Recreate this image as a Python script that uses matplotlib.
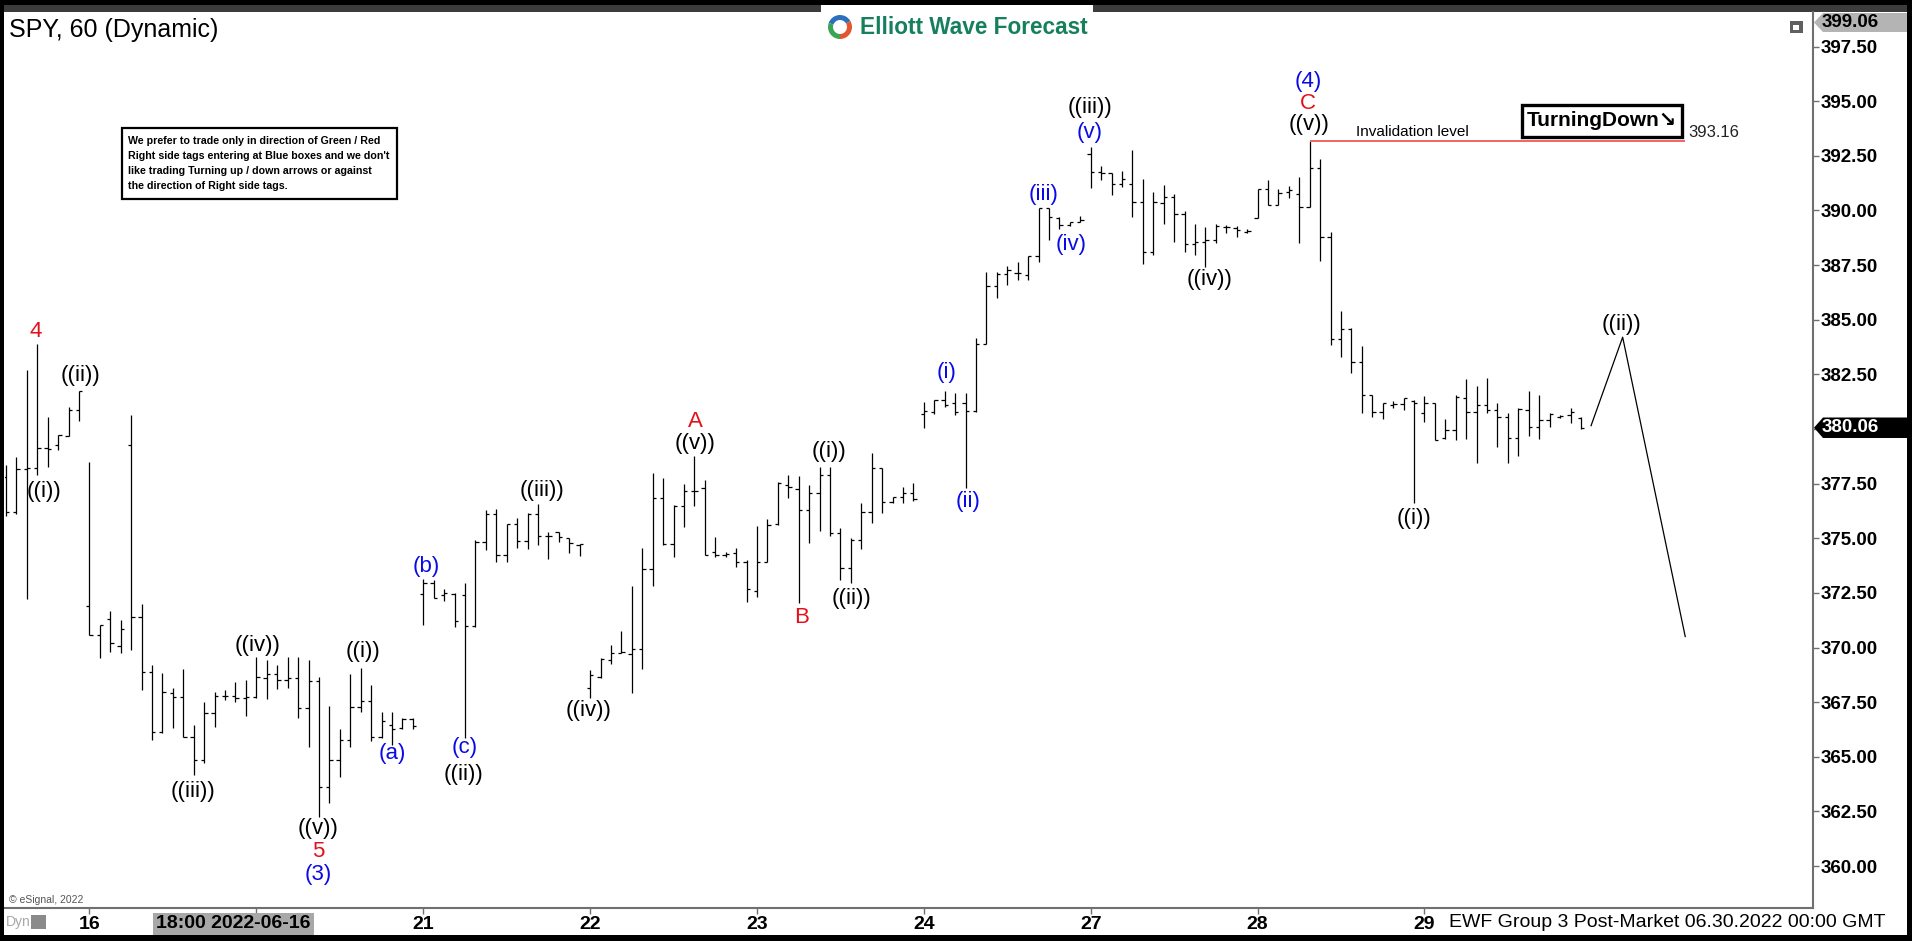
import numpy as np
import matplotlib
matplotlib.use("Agg")
import matplotlib.pyplot as plt
from matplotlib import font_manager
from matplotlib.patches import Rectangle, Polygon, Wedge

# SPY hourly bars (16 per session, 04:00-20:00)
opens = [377.8, 376.2, 378.16, 378.2, 379.15, 379.27, 379.68, 380.87,
         371.9, 370.57, 371.3, 370.07, 379.27, 371.41, 368.9, 366.12,
         367.9, 367.72, 365.89, 364.85, 366.99, 367.78, 367.78, 367.67,
         367.75, 368.6, 368.77, 368.5, 368.6, 367.22, 368.47, 363.63,
         364.86, 365.77, 367.3, 367.53, 365.89, 366.46, 366.3, 366.72,
         372.44, 372.94, 372.41, 372.44, 372.41, 370.99, 374.85, 376.11,
         374.24, 375.66, 374.89, 376.11, 375.11, 375.27, 375.0, 374.69,
         368.13, 368.67, 369.43, 369.76, 369.7, 369.92, 373.58, 376.83,
         374.72, 376.49, 377.16, 377.29, 374.39, 374.23, 374.34, 373.93,
         372.59, 373.93, 375.64, 377.44, 377.24, 376.29, 377.05, 377.89,
         375.22, 373.62, 374.92, 376.21, 378.2, 376.67, 376.9, 377.05,
         380.7, 380.79, 381.32, 381.17, 381.17, 380.82, 383.87, 386.54,
         387.08, 387.12, 387.05, 387.93, 390.13, 389.64, 389.33, 389.49,
         392.58, 391.77, 391.7, 391.2, 391.2, 390.4, 388.11, 390.36,
         390.6, 389.82, 388.45, 388.57, 388.65, 389.26, 389.18, 389.03,
         389.64, 391.0, 390.25, 390.86, 390.75, 390.17, 391.93, 388.8,
         384.1, 384.56, 383.08, 381.55, 380.76, 381.1, 381.14, 381.3,
         380.72, 381.17, 379.57, 379.95, 381.4, 380.79, 381.1, 380.86,
         380.56, 379.6, 380.87, 380.1, 380.41, 380.56, 380.64, 380.49]
highs = [378.35, 378.74, 382.7, 383.9, 380.57, 379.73, 381.02, 381.74,
         378.5, 371.03, 371.67, 371.26, 380.64, 371.98, 369.2, 368.82,
         368.13, 369.0, 366.45, 367.52, 367.98, 368.06, 368.44, 368.5,
         369.55, 369.43, 369.2, 369.58, 369.58, 369.43, 368.64, 367.33,
         366.26, 368.79, 369.05, 368.29, 367.07, 367.07, 366.76, 366.76,
         373.12, 373.09, 372.67, 372.48, 372.94, 374.92, 376.3, 376.33,
         375.66, 375.92, 376.15, 376.57, 375.3, 375.3, 375.0, 374.72,
         368.97, 369.5, 370.12, 370.76, 372.82, 374.54, 377.97, 377.74,
         376.52, 377.48, 378.77, 377.67, 375.04, 374.39, 374.54, 374.0,
         375.56, 375.87, 377.59, 377.9, 377.85, 377.44, 378.27, 378.27,
         375.45, 374.99, 376.6, 378.88, 378.2, 376.9, 377.33, 377.51,
         381.25, 381.32, 381.74, 381.63, 381.63, 384.18, 387.2, 387.17,
         387.47, 387.66, 387.93, 390.13, 390.13, 389.72, 389.49, 389.75,
         392.92, 392.03, 391.7, 391.82, 392.77, 391.42, 390.86, 391.16,
         390.74, 389.97, 389.38, 389.23, 389.36, 389.33, 389.29, 389.14,
         391.0, 391.39, 390.97, 391.12, 391.52, 393.16, 392.34, 389.03,
         385.41, 384.6, 383.8, 381.55, 381.17, 381.29, 381.4, 381.32,
         381.51, 381.2, 380.44, 381.55, 382.27, 381.97, 382.32, 381.2,
         380.71, 380.94, 381.74, 381.55, 380.75, 380.64, 380.94, 380.53]
lows = [376.0, 376.1, 372.2, 377.9, 378.28, 379.04, 379.68, 380.38,
        370.57, 369.5, 369.81, 369.76, 369.89, 368.06, 365.77, 366.1,
        366.3, 365.89, 364.17, 364.7, 366.38, 367.6, 367.52, 366.87,
        367.67, 367.63, 368.1, 368.14, 366.76, 365.47, 362.26, 362.87,
        364.06, 365.47, 367.07, 365.74, 365.85, 365.54, 366.26, 366.26,
        371.03, 372.26, 372.15, 370.96, 365.85, 370.96, 374.47, 373.93,
        373.93, 374.54, 374.51, 374.7, 374.04, 374.84, 374.34, 374.19,
        367.67, 368.59, 369.25, 369.76, 367.9, 369.0, 372.82, 374.69,
        374.13, 375.53, 376.48, 374.23, 374.16, 374.16, 373.7, 372.1,
        372.3, 373.9, 375.61, 376.83, 372.02, 374.77, 375.35, 375.1,
        373.09, 372.93, 374.5, 375.68, 376.14, 376.63, 376.63, 376.72,
        380.03, 380.67, 381.02, 380.64, 377.28, 380.76, 383.87, 385.98,
        386.59, 386.81, 386.81, 387.66, 388.65, 389.15, 389.3, 389.49,
        391.01, 391.39, 390.71, 391.09, 389.72, 387.55, 387.96, 389.4,
        388.57, 388.11, 387.96, 387.43, 388.53, 388.98, 388.8, 388.95,
        389.64, 390.25, 390.25, 390.55, 388.53, 390.17, 387.7, 383.84,
        383.31, 382.55, 380.71, 380.56, 380.44, 380.94, 380.87, 376.6,
        380.33, 379.5, 379.53, 379.5, 379.53, 378.46, 380.71, 379.19,
        378.46, 378.76, 379.68, 379.53, 380.1, 380.49, 380.29, 379.98]
closes = [376.2, 378.16, 378.2, 379.15, 379.1, 379.73, 380.87, 381.74,
          370.57, 371.03, 370.19, 370.83, 371.41, 368.9, 366.12, 367.98,
          367.72, 365.89, 364.85, 366.99, 367.78, 367.78, 367.67, 367.75,
          368.67, 368.77, 368.5, 368.6, 367.22, 368.47, 363.63, 364.86,
          365.77, 367.3, 367.53, 365.89, 366.64, 366.26, 366.72, 366.41,
          372.94, 372.26, 372.48, 371.19, 370.99, 374.85, 376.11, 374.24,
          375.66, 374.89, 376.11, 375.11, 375.1, 375.07, 374.77, 374.72,
          368.74, 369.46, 369.76, 369.81, 369.92, 373.58, 376.83, 374.72,
          376.49, 377.16, 377.16, 374.23, 374.23, 374.28, 373.93, 372.66,
          373.93, 375.61, 377.51, 377.33, 376.29, 377.06, 377.89, 375.22,
          373.62, 374.92, 376.21, 378.2, 376.67, 376.9, 377.05, 376.78,
          380.82, 381.32, 381.1, 380.79, 380.82, 383.87, 386.54, 387.08,
          387.27, 387.12, 387.93, 390.13, 389.72, 389.33, 389.49, 389.56,
          391.77, 391.7, 391.2, 391.42, 390.4, 388.11, 390.4, 390.6,
          389.82, 388.45, 388.57, 388.65, 389.29, 389.26, 389.1, 389.07,
          391.0, 390.25, 390.78, 390.94, 390.17, 391.93, 388.8, 384.1,
          384.56, 383.08, 381.55, 380.76, 381.17, 381.14, 381.4, 381.2,
          381.17, 379.5, 379.95, 381.48, 380.79, 381.1, 380.86, 380.56,
          379.6, 380.9, 380.1, 380.41, 380.68, 380.59, 380.79, 380.06]

day_labels = ['16', '17', '21', '22', '23', '24', '27', '28', '29']
first_day_bar = 8      # first bar of the 16th
bars_per_day = 16
cursor_label = '18:00 2022-06-16'   # crosshair tag sits over the "17" label

# projected path after the last bar
proj_x = [151.97, 155.0, 161.0]
proj_y = [380.15, 384.2, 370.5]

invalidation = 393.16
last_price = 380.06
top_price = 399.06

blue = '#0a0ae6'
red = '#e3101c'
black = 'black'

# wave labels: text, bar position, price, colour
wave_labels = [
    ('4', 2.82, 384.45, red), ('((i))', 3.62, 377.13, black),
    ('((ii))', 7.13, 382.43, black), ('((iii))', 17.91, 363.4, black),
    ('((iv))', 24.14, 370.07, black), ('((v))', 29.96, 361.73, black),
    ('5', 29.93, 360.65, red), ('(3)', 29.93, 359.62, blue),
    ('((i))', 34.21, 369.81, black), ('(a)', 37.08, 365.13, blue),
    ('(b)', 40.28, 373.7, blue), ('(c)', 43.95, 365.41, blue),
    ('((ii))', 43.89, 364.21, black), ('((iii))', 51.38, 377.17, black),
    ('((iv))', 55.89, 367.11, black), ('A', 66.07, 380.33, red),
    ('((v))', 66.07, 379.35, black), ('B', 76.23, 371.38, red),
    ('((i))', 78.9, 378.96, black), ('((ii))', 81.04, 372.25, black),
    ('(i)', 90.13, 382.58, blue), ('(ii)', 92.2, 376.67, blue),
    ('(iii)', 99.46, 390.74, blue), ('(iv)', 102.12, 388.42, blue),
    ('(v)', 103.94, 393.56, blue), ('((iii))', 103.94, 394.7, black),
    ('((iv))', 115.41, 386.85, black), ('(4)', 124.84, 395.9, blue),
    ('C', 124.84, 394.88, red), ('((v))', 124.96, 393.91, black),
    ('((i))', 135.0, 375.91, black), ('((ii))', 154.9, 384.76, black),
]

info_lines = ["We prefer to trade only in direction of Green / Red",
              "Right side tags entering at Blue boxes and we don't",
              "like trading Turning up / down arrows or against",
              "the direction of Right side tags."]

plt.rcParams['font.family'] = ['Liberation Sans', 'DejaVu Sans']
installed = {f.name for f in font_manager.fontManager.ttflist}
has_narrow = 'Liberation Sans Narrow' in installed
narrow = ['Liberation Sans Narrow', 'Liberation Sans', 'DejaVu Sans'] if has_narrow else ['Liberation Sans', 'DejaVu Sans']

W, H = 1912, 941
fig = plt.figure(figsize=(W / 100, H / 100), dpi=100, facecolor='black')


def fx(px):
    return px / W


def fy(py):
    return 1 - py / H


# white page inside the black frame
fig.add_artist(Rectangle((fx(4), fy(935)), fx(1907) - fx(4), fy(12) - fy(935),
                         transform=fig.transFigure, facecolor='white',
                         edgecolor='none', zorder=-2))
fig.add_artist(Rectangle((fx(4), fy(12)), fx(1907) - fx(4), fy(5) - fy(12),
                         transform=fig.transFigure, facecolor='#3c3c3c',
                         edgecolor='none', zorder=-1))

ax = fig.add_axes([fx(5), fy(908), fx(1813) - fx(5), fy(12) - fy(908)], zorder=1)
ax.set_facecolor('white')

x = np.arange(len(opens))
ax.vlines(x, lows, highs, color='black', lw=0.9)
ax.hlines(opens, x - 0.32, x, color='black', lw=0.9)
ax.hlines(closes, x, x + 0.32, color='black', lw=0.9)

ax.plot(proj_x, proj_y, color='black', lw=0.9)
ax.hlines(invalidation, 125.03, 161.0, color='#f06464', lw=1.4)
ax.text(129.4, 393.6, 'Invalidation level', fontsize=11, va='center', ha='left',
        family=narrow)
ax.text(161.3, 393.55, f'{invalidation:.2f}', fontsize=12, va='center', ha='left',
        color='#222222')

ax.add_patch(Rectangle((145.32, 393.38), 160.7 - 145.32, 394.83 - 393.38,
                       facecolor='white', edgecolor='black', lw=2.4, zorder=3))
ax.text(153.0, 394.1, 'TurningDown\u2198', fontsize=17 if has_narrow else 15,
        fontweight='bold', ha='center', va='center', zorder=4,
        family=narrow + ['DejaVu Sans'])

for txt, bx, by, col in wave_labels:
    ax.text(bx, by, txt, color=col, fontsize=16, ha='center', va='center')

ax.set_xlim(-0.1, 173.25)
ax.set_ylim(358.08, 399.08)

ticks = [first_day_bar + bars_per_day * k for k in range(len(day_labels))]
shown = ['' if k == 1 else lab for k, lab in enumerate(day_labels)]
ax.set_xticks(ticks)
ax.set_xticklabels(shown, fontsize=14, fontweight='bold')
yt = np.arange(360, 398, 2.5)
ax.yaxis.tick_right()
ax.set_yticks(yt)
ax.set_yticklabels([f'{v:.2f}' for v in yt], fontsize=13.5, fontweight='bold')
ax.tick_params(axis='y', length=4, width=1, color='#707070', pad=1.5)
ax.tick_params(axis='x', length=4, width=1, color='#707070', pad=1.5)
for side in ['top', 'left']:
    ax.spines[side].set_visible(False)
for side in ['right', 'bottom']:
    ax.spines[side].set_color('#707070')
    ax.spines[side].set_linewidth(1.5)

# overlay in pixel units for the chart furniture
deco = fig.add_axes([0, 0, 1, 1], zorder=5)
deco.set_xlim(0, W)
deco.set_ylim(H, 0)
deco.axis('off')

deco.text(9, 30, 'SPY, 60 (Dynamic)', fontsize=18, va='center', ha='left')

# logo
deco.add_patch(Rectangle((821, 5), 272, 8, facecolor='white', edgecolor='none'))
deco.add_patch(Wedge((840, 27), 12, 200, 330, width=5, facecolor='#2a6fc0'))
deco.add_patch(Wedge((840, 27), 12, 330, 90, width=5, facecolor='#e4572e'))
deco.add_patch(Wedge((840, 27), 12, 90, 200, width=5, facecolor='#3aa655'))
deco.text(860, 27, 'Elliott Wave Forecast', fontsize=16.3, fontweight='bold',
          color='#16805e', va='center', ha='left')

# note box
deco.add_patch(Rectangle((122, 128), 275, 71, facecolor='white', edgecolor='black', lw=1.6))
for k, line in enumerate(info_lines):
    deco.text(128, 140.5 + 15 * k, line, fontsize=9.4 if has_narrow else 7.7,
              fontweight='bold', va='center', ha='left', family=narrow)

# small window icon
deco.add_patch(Rectangle((1790, 21), 13, 12, facecolor='#606060', edgecolor='none'))
deco.add_patch(Rectangle((1793, 25), 6, 5, facecolor='white', edgecolor='none'))

# price tags on the scale
deco.add_patch(Polygon([(1814, 22.5), (1823, 13), (1907, 13), (1907, 32), (1823, 32)],
                       closed=True, facecolor='#b4b4b4', edgecolor='none'))
deco.text(1822, 22.5, f'{top_price:.2f}', fontsize=13.5, fontweight='bold',
          va='center', ha='left')
deco.add_patch(Polygon([(1814, 427.7), (1823, 417.5), (1907, 417.5), (1907, 438), (1823, 438)],
                       closed=True, facecolor='black', edgecolor='none'))
deco.text(1822, 427.7, f'{last_price:.2f}', fontsize=13.5, fontweight='bold',
          color='white', va='center', ha='left')

# time-scale furniture
deco.add_patch(Rectangle((153, 913), 161, 22, facecolor='#a8a8a8', edgecolor='none'))
deco.text(233.5, 924, cursor_label, fontsize=14, fontweight='bold',
          va='center', ha='center')
deco.text(1449, 922.5, 'EWF Group 3 Post-Market 06.30.2022 00:00 GMT', fontsize=14,
          va='center', ha='left')
deco.text(6, 922, 'Dyn', fontsize=10, color='#a8a8a8', va='center', ha='left')
deco.add_patch(Rectangle((31, 915), 15, 14, facecolor='#8a8a8a', edgecolor='none'))
deco.text(9, 900, '\u00a9 eSignal, 2022', fontsize=7.5, color='#555555',
          va='center', ha='left')

fig.savefig('out.png', dpi=100, facecolor=fig.get_facecolor())
